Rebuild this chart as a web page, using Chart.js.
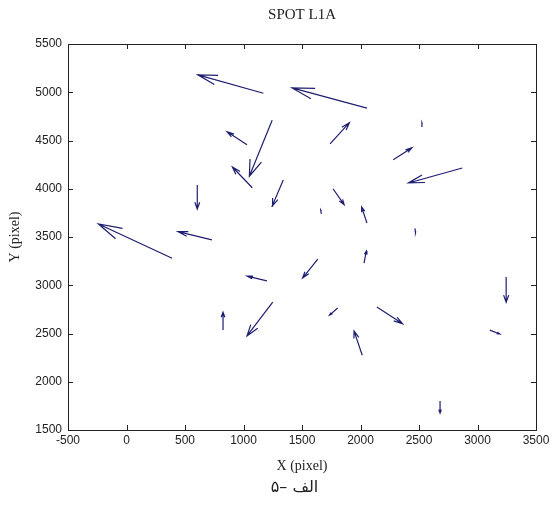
<!DOCTYPE html>
<html><head><meta charset="utf-8">
<script src="https://cdn.jsdelivr.net/npm/chart.js@4.4.1/dist/chart.umd.min.js"></script>
<style>
html,body{margin:0;padding:0;background:#fff;}
#wrap{position:relative;width:553px;height:513px;}
#caption{position:absolute;left:18px;width:553px;top:477px;text-align:center;font-family:"DejaVu Sans",sans-serif;font-size:16px;color:#222;direction:ltr;}
#caption span{display:inline-block;}
</style></head><body>
<div id="wrap"><canvas id="c" width="553" height="513"></canvas><div id="caption"><span>۵–</span>&nbsp;<span>الف</span></div></div>
<script>
// Quiver data: base point (arrowX, arrowY) and vector (arrowU, arrowV)
const arrowX = [1170, 2055, 1740, 1245, 1030, 2525, 2280, 2870, 1075, 1340, 605, 1765, 2055, 1665, 2465, 730, 390, 2030, 1635, 1200, 825, 1250, 1805, 2140, 2015, 3245, 3105, 2680];
const arrowY = [4990, 4835, 4465, 4710, 4455, 4640, 4300, 4215, 4010, 4090, 4040, 4000, 3645, 3740, 3590, 3470, 3280, 3230, 3270, 3045, 2535, 2825, 2765, 2775, 2275, 3085, 2535, 1800];
const arrowU = [-560, -640, 165, -195, -170, 0, 160, -460, -170, -95, 0, 95, -45, -5, 5, -290, -630, 20, -130, -170, 0, -220, -70, 220, -70, 0, 85, 0];
const arrowV = [190, 210, 220, -580, 135, 45, 125, -155, 215, -270, -250, -165, 165, 40, -40, 85, 355, 125, -195, 50, 185, -350, -75, -175, 250, -260, -40, -125];
const xTicks = [-500, 0, 500, 1000, 1500, 2000, 2500, 3000, 3500];
const yTicks = [1500, 2000, 2500, 3000, 3500, 4000, 4500, 5000, 5500];

const HEAD_ALPHA = 0.28, HEAD_BETA = 0.3;
const pts = [];
for (let i = 0; i < arrowX.length; i++) {
  const x = arrowX[i], y = arrowY[i], u = arrowU[i], v = arrowV[i];
  const tx = x + u, ty = y + v;
  pts.push({x: x, y: y}, {x: tx, y: ty}, {x: tx, y: null});
  pts.push({x: tx - HEAD_ALPHA * (u + HEAD_BETA * v), y: ty - HEAD_ALPHA * (v - HEAD_BETA * u)});
  pts.push({x: tx, y: ty});
  pts.push({x: tx - HEAD_ALPHA * (u - HEAD_BETA * v), y: ty - HEAD_ALPHA * (v + HEAD_BETA * u)});
  pts.push({x: tx, y: null});
}

const framePlugin = {
  id: 'frame',
  afterDatasetsDraw(chart) {
    const {ctx, chartArea: a, scales: {x, y}} = chart;
    ctx.save();
    ctx.strokeStyle = '#222';
    ctx.lineWidth = 1;
    ctx.strokeRect(Math.round(a.left) + 0.5, Math.round(a.top) + 0.5, Math.round(a.right - a.left), Math.round(a.bottom - a.top));
    const L = 5;
    ctx.beginPath();
    xTicks.forEach(v => {
      const p = Math.round(x.getPixelForValue(v)) + 0.5;
      ctx.moveTo(p, a.bottom); ctx.lineTo(p, a.bottom - L);
      ctx.moveTo(p, a.top); ctx.lineTo(p, a.top + L);
    });
    yTicks.forEach(v => {
      const p = Math.round(y.getPixelForValue(v)) + 0.5;
      ctx.moveTo(a.left, p); ctx.lineTo(a.left + L, p);
      ctx.moveTo(a.right, p); ctx.lineTo(a.right - L, p);
    });
    ctx.stroke();
    ctx.restore();
  }
};

new Chart(document.getElementById('c'), {
  type: 'scatter',
  data: {
    datasets: [{
      data: pts,
      showLine: true,
      spanGaps: false,
      borderColor: '#1e1e70',
      borderWidth: 1.2,
      pointRadius: 0,
      pointHoverRadius: 0,
      tension: 0
    }]
  },
  options: {
    responsive: false,
    animation: false,
    devicePixelRatio: 1,
    layout: {padding: {left: 0, right: 17, top: 0, bottom: 38}},
    plugins: {
      legend: {display: false},
      tooltip: {enabled: false},
      title: {
        display: true, text: 'SPOT L1A', fullSize: false,
        font: {family: 'Liberation Serif', size: 15, weight: 'normal'},
        color: '#222', padding: {top: 6, bottom: 20}
      }
    },
    scales: {
      x: {
        type: 'linear', min: -500, max: 3500,
        afterBuildTicks: s => { s.ticks = xTicks.map(v => ({value: v})); },
        afterFit: s => { s.height = 45; },
        grid: {display: false, drawTicks: false},
        border: {display: false},
        ticks: {font: {family: 'Liberation Sans', size: 12}, color: '#222', padding: 3, maxRotation: 0, autoSkip: false, callback: v => String(v)},
        title: {display: true, text: 'X (pixel)', font: {family: 'Liberation Serif', size: 14}, color: '#222', padding: {top: 6, bottom: 0}}
      },
      y: {
        type: 'linear', min: 1500, max: 5500,
        afterBuildTicks: s => { s.ticks = yTicks.map(v => ({value: v})); },
        afterFit: s => { s.width = 68; },
        grid: {display: false, drawTicks: false},
        border: {display: false},
        ticks: {font: {family: 'Liberation Sans', size: 12}, color: '#222', padding: 6, autoSkip: false, callback: v => String(v)},
        title: {display: true, text: 'Y (pixel)', font: {family: 'Liberation Serif', size: 14}, color: '#222', padding: {top: 7, bottom: 0}}
      }
    }
  },
  plugins: [framePlugin]
});
</script>
</body></html>
